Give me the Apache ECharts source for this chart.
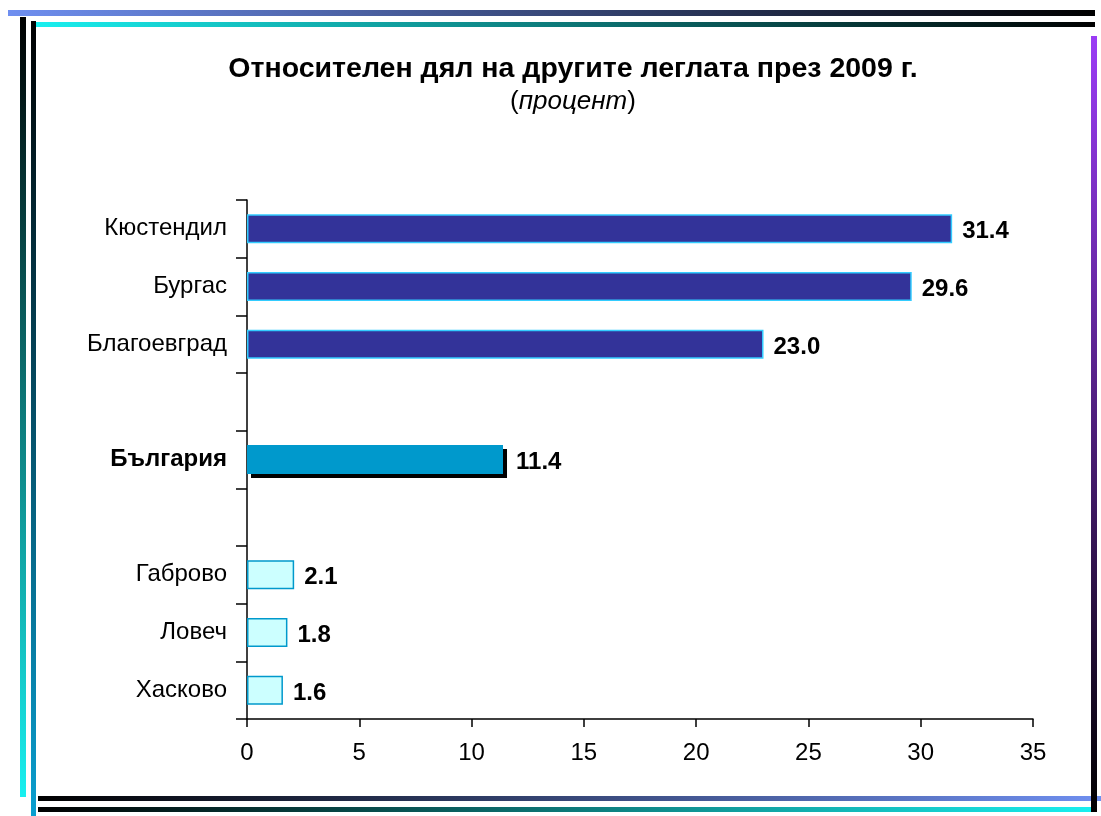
<!DOCTYPE html>
<html>
<head>
    <meta charset="utf-8">
    <title>Относителен дял на другите легла</title>
    <script src="https://cdn.jsdelivr.net/npm/echarts@6/dist/echarts.min.js"></script>
    <style>
        html, body { margin: 0; padding: 0; background: #fff; }
        #chartmain { width: 1101px; height: 816px; }
    </style>
</head>
<body>
<div id="chartmain"></div>
<script>
    // data; blank rows are the gaps between the groups
    var categories = ['Кюстендил', 'Бургас', 'Благоевград', ' ', 'България', '  ', 'Габрово', 'Ловеч', 'Хасково'];
    var values = [31.4, 29.6, 23.0, null, 11.4, null, 2.1, 1.8, 1.6];
    var groups = ['top', 'top', 'top', '', 'country', '', 'low', 'low', 'low'];
    var xTicks = [0, 5, 10, 15, 20, 25, 30, 35];

    var styles = {
        top: {color: '#333399', borderColor: '#33ccff', borderWidth: 1.5},
        country: {color: '#0099cc', borderWidth: 0,
            shadowColor: '#000', shadowOffsetX: 4, shadowOffsetY: 4, shadowBlur: 0},
        low: {color: '#ccffff', borderColor: '#0099cc', borderWidth: 1.5}
    };

    var labelStyle = {
        show: true,
        position: 'right',
        distance: 10,
        offset: [0, 3],
        fontFamily: 'Liberation Sans', fontSize: 24, fontWeight: 'bold', color: '#000',
        textShadowBlur: 0, textShadowColor: 'transparent',
        formatter: function (p) { return p.value.toFixed(1); }
    };

    var seriesData = [];
    for (var i = 0; i < values.length; i++) {
        if (values[i] === null) {
            seriesData.push('-');
        } else {
            var lbl = Object.assign({}, labelStyle);
            if (groups[i] === 'country') lbl.distance = 13;
            seriesData.push({value: values[i], itemStyle: styles[groups[i]], label: lbl});
        }
    }

    function vline(x, y1, y2, w, c1, c2) {
        return {
            type: 'rect', silent: true,
            shape: {x: x, y: y1, width: w, height: y2 - y1},
            style: {fill: new echarts.graphic.LinearGradient(0, 0, 0, 1, [
                {offset: 0, color: c1}, {offset: 1, color: c2}])}
        };
    }
    function hline(y, x1, x2, h, c1, c2) {
        return {
            type: 'rect', silent: true,
            shape: {x: x1, y: y, width: x2 - x1, height: h},
            style: {fill: new echarts.graphic.LinearGradient(0, 0, 1, 0, [
                {offset: 0, color: c1}, {offset: 1, color: c2}])}
        };
    }

    var myChart = echarts.init(document.getElementById('chartmain'));
    var option = {
        backgroundColor: '#fff',
        animation: false,
        title: {
            text: 'Относителен дял на другите леглата през 2009 г.',
            subtext: '({i|процент})',
            left: 568,
            textAlign: 'center',
            top: 50,
            itemGap: 5,
            textStyle: {fontFamily: 'Liberation Sans', fontSize: 28.5, fontWeight: 'bold', color: '#000'},
            subtextStyle: {
                fontFamily: 'Liberation Sans', fontSize: 26, color: '#000',
                rich: {i: {fontFamily: 'Liberation Sans', fontSize: 26, fontStyle: 'italic', color: '#000'}}
            }
        },
        grid: {left: 247, right: 68, top: 200, bottom: 97},
        xAxis: {
            type: 'value',
            min: 0, max: 35, interval: 5,
            splitLine: {show: false},
            axisLine: {show: true, lineStyle: {color: '#000', width: 1.5}},
            axisTick: {show: true, length: 8, lineStyle: {color: '#000', width: 1.5}},
            axisLabel: {
                fontFamily: 'Liberation Sans', fontSize: 24, color: '#000', margin: 22,
                formatter: function (v) { return xTicks.indexOf(v) >= 0 ? String(v) : ''; }
            }
        },
        yAxis: {
            type: 'category',
            inverse: true,
            data: categories,
            axisLine: {show: true, lineStyle: {color: '#000', width: 1.5}},
            axisTick: {show: true, length: 11, lineStyle: {color: '#000', width: 1.5}},
            axisLabel: {
                fontFamily: 'Liberation Sans', fontSize: 24, color: '#000', margin: 20,
                formatter: function (v) { return v === 'България' ? '{b|' + v + '}' : v; },
                rich: {b: {fontFamily: 'Liberation Sans', fontSize: 24, fontWeight: 'bold', color: '#000'}}
            }
        },
        series: [{
            type: 'bar',
            data: seriesData,
            barWidth: 29
        }],
        graphic: [
            hline(10, 8, 1095, 6, '#6f8ff0', '#000'),
            hline(22, 33, 1095, 5, '#19f0f0', '#000'),
            vline(20, 17, 797, 6, '#000', '#19f0f0'),
            vline(31, 21, 816, 5, '#000', '#0a9fd0'),
            hline(796, 38, 1101, 5, '#000', '#6f8ff0'),
            hline(807, 38, 1095, 5, '#000', '#19f0f0'),
            vline(1091, 36, 812, 6, '#9b3cf5', '#000')
        ]
    };
    myChart.setOption(option);
</script>
</body>
</html>
